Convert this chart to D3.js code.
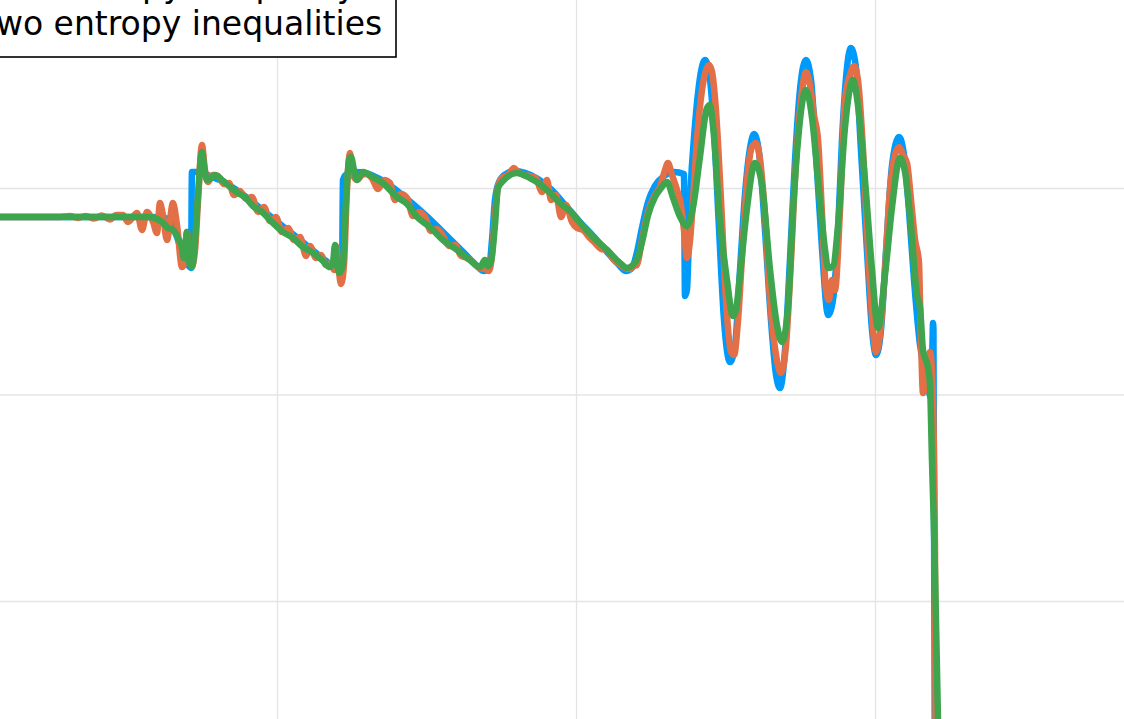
<!DOCTYPE html>
<html>
<head>
<meta charset="utf-8">
<script src="https://cdn.jsdelivr.net/npm/d3@7"></script>
<style>
  html, body { margin: 0; padding: 0; background: #fff; overflow: hidden; }
  svg { display: block; }
</style>
</head>
<body>
<div id="chart-area"></div>
<script>
// Shu-Osher density profile, three entropy-inequality variants

var xTicks = [-4, -2, 0, 2, 4];
var yTicks = [1, 2, 3, 4, 5];
var legendLabels = ["no entropy inequality", "one entropy inequality", "two entropy inequalities"];

// series values, [x, rho]
var rhoNone = [
  [-5.000, 3.860], [-2.850, 3.860], [-2.749, 3.855], [-2.702, 3.821], [-2.662, 3.748],
  [-2.622, 3.661], [-2.589, 3.622], [-2.575, 3.613], [-2.569, 4.077], [-2.515, 4.077],
  [-2.448, 4.058], [-2.368, 4.034], [-2.281, 3.995], [-2.181, 3.942], [-2.080, 3.884],
  [-1.980, 3.826], [-1.880, 3.768], [-1.779, 3.709], [-1.679, 3.651], [-1.592, 3.603],
  [-1.565, 3.593], [-1.559, 4.039], [-1.532, 4.068], [-1.478, 4.077], [-1.411, 4.073],
  [-1.324, 4.048], [-1.231, 4.005], [-1.130, 3.947], [-1.030, 3.884], [-0.930, 3.816],
  [-0.829, 3.743], [-0.736, 3.676], [-0.669, 3.627], [-0.615, 3.598], [-0.582, 3.613],
  [-0.562, 3.748], [-0.542, 3.942], [-0.515, 4.029], [-0.468, 4.068], [-0.408, 4.082],
  [-0.341, 4.073], [-0.254, 4.044], [-0.161, 3.990], [-0.067, 3.913], [0.027, 3.835],
  [0.127, 3.758], [0.214, 3.685], [0.281, 3.632], [0.334, 3.598], [0.375, 3.613],
  [0.408, 3.690], [0.441, 3.806], [0.482, 3.932], [0.528, 4.010], [0.589, 4.058],
  [0.656, 4.077], [0.722, 4.068], [0.729, 3.477], [0.742, 3.506], [0.763, 3.942],
  [0.796, 4.305], [0.829, 4.533], [0.863, 4.620], [0.890, 4.562], [0.923, 4.281],
  [0.957, 3.797], [0.990, 3.361], [1.030, 3.157], [1.064, 3.240], [1.097, 3.603],
  [1.130, 3.966], [1.164, 4.194], [1.191, 4.261], [1.224, 4.174], [1.264, 3.797],
  [1.304, 3.361], [1.338, 3.094], [1.365, 3.031], [1.398, 3.215], [1.431, 3.651],
  [1.465, 4.136], [1.498, 4.475], [1.538, 4.620], [1.572, 4.523], [1.612, 4.087],
  [1.646, 3.700], [1.686, 3.385], [1.719, 3.458], [1.753, 3.797], [1.779, 4.232],
  [1.806, 4.533], [1.839, 4.678], [1.873, 4.581], [1.906, 4.184], [1.946, 3.700],
  [1.980, 3.312], [2.007, 3.191], [2.040, 3.312], [2.074, 3.700], [2.114, 4.111],
  [2.161, 4.247], [2.194, 4.160], [2.227, 3.893], [2.261, 3.554], [2.301, 3.240],
  [2.341, 3.094], [2.375, 2.983], [2.385, 3.264], [2.388, 3.346], [2.391, 3.312],
  [2.401, 1.036], [2.600, 1.000], [5.000, 1.000]
];

var rhoOne = [
  [-5.000, 3.860], [-3.452, 3.860], [-3.385, 3.864], [-3.331, 3.855], [-3.278, 3.864],
  [-3.224, 3.852], [-3.171, 3.867], [-3.117, 3.847], [-3.077, 3.869], [-3.030, 3.869],
  [-2.997, 3.835], [-2.936, 3.879], [-2.903, 3.797], [-2.870, 3.884], [-2.829, 3.835],
  [-2.803, 3.782], [-2.783, 3.927], [-2.763, 3.869], [-2.736, 3.748], [-2.696, 3.927],
  [-2.669, 3.821], [-2.635, 3.617], [-2.622, 3.632], [-2.602, 3.787], [-2.589, 3.700],
  [-2.569, 3.622], [-2.548, 3.700], [-2.528, 3.942], [-2.502, 4.208], [-2.482, 4.087],
  [-2.462, 4.029], [-2.428, 4.063], [-2.395, 4.058], [-2.355, 4.019], [-2.321, 4.024],
  [-2.288, 3.966], [-2.248, 3.985], [-2.207, 3.947], [-2.167, 3.956], [-2.127, 3.884],
  [-2.087, 3.908], [-2.047, 3.840], [-2.007, 3.860], [-1.967, 3.787], [-1.926, 3.806],
  [-1.886, 3.748], [-1.846, 3.763], [-1.806, 3.671], [-1.779, 3.719], [-1.739, 3.661],
  [-1.706, 3.676], [-1.672, 3.627], [-1.639, 3.637], [-1.619, 3.603], [-1.605, 3.719],
  [-1.592, 3.642], [-1.572, 3.535], [-1.552, 3.627], [-1.532, 3.990], [-1.512, 4.169],
  [-1.492, 4.063], [-1.465, 4.039], [-1.431, 4.063], [-1.405, 4.068], [-1.365, 4.048],
  [-1.324, 3.995], [-1.284, 4.039], [-1.244, 4.024], [-1.211, 3.942], [-1.171, 3.971],
  [-1.130, 3.952], [-1.090, 3.864], [-1.050, 3.884], [-1.010, 3.860], [-0.970, 3.792],
  [-0.930, 3.801], [-0.890, 3.768], [-0.849, 3.719], [-0.809, 3.724], [-0.769, 3.671],
  [-0.729, 3.661], [-0.689, 3.642], [-0.649, 3.613], [-0.609, 3.608], [-0.582, 3.598],
  [-0.562, 3.676], [-0.542, 3.869], [-0.522, 4.005], [-0.495, 4.048], [-0.455, 4.063],
  [-0.415, 4.097], [-0.388, 4.077], [-0.348, 4.063], [-0.308, 4.058], [-0.268, 4.048],
  [-0.227, 3.981], [-0.194, 4.039], [-0.167, 3.942], [-0.134, 3.966], [-0.100, 3.860],
  [-0.067, 3.918], [-0.027, 3.835], [0.007, 3.806], [0.047, 3.797], [0.087, 3.763],
  [0.127, 3.734], [0.167, 3.705], [0.207, 3.700], [0.248, 3.656], [0.288, 3.632],
  [0.328, 3.613], [0.361, 3.608], [0.388, 3.622], [0.408, 3.627], [0.441, 3.748],
  [0.482, 3.884], [0.528, 3.966], [0.562, 4.005], [0.595, 4.087], [0.615, 4.121],
  [0.642, 4.063], [0.676, 3.990], [0.702, 3.918], [0.722, 3.797], [0.742, 3.661],
  [0.763, 3.748], [0.783, 3.942], [0.809, 4.232], [0.843, 4.475], [0.870, 4.571],
  [0.890, 4.596], [0.910, 4.562], [0.936, 4.378], [0.970, 3.942], [1.003, 3.458],
  [1.037, 3.206], [1.057, 3.191], [1.084, 3.361], [1.117, 3.748], [1.151, 4.087],
  [1.177, 4.199], [1.204, 4.218], [1.231, 4.136], [1.264, 3.869], [1.298, 3.458],
  [1.338, 3.191], [1.371, 3.104], [1.405, 3.240], [1.438, 3.651], [1.472, 4.136],
  [1.505, 4.426], [1.538, 4.562], [1.565, 4.499], [1.592, 4.353], [1.619, 4.232],
  [1.646, 3.869], [1.672, 3.506], [1.692, 3.458], [1.712, 3.554], [1.732, 3.506],
  [1.766, 3.893], [1.799, 4.426], [1.833, 4.547], [1.860, 4.591], [1.886, 4.523],
  [1.920, 4.184], [1.953, 3.700], [1.987, 3.312], [2.007, 3.206], [2.033, 3.288],
  [2.067, 3.603], [2.100, 3.990], [2.134, 4.160], [2.161, 4.199], [2.187, 4.160],
  [2.214, 4.121], [2.241, 3.942], [2.268, 3.748], [2.294, 3.642], [2.301, 3.458],
  [2.308, 3.264], [2.321, 3.007], [2.341, 3.046], [2.368, 3.206], [2.381, 3.119],
  [2.395, 2.683], [2.401, 2.271], [2.408, 0.988], [2.600, 1.000], [5.000, 1.000]
];

var rhoTwo = [
  [-5.000, 3.860], [-2.850, 3.860], [-2.803, 3.850], [-2.769, 3.835], [-2.729, 3.806],
  [-2.696, 3.797], [-2.662, 3.758], [-2.635, 3.709], [-2.622, 3.661], [-2.609, 3.748],
  [-2.602, 3.787], [-2.589, 3.642], [-2.569, 3.617], [-2.548, 3.748], [-2.528, 3.966],
  [-2.502, 4.174], [-2.482, 4.077], [-2.468, 4.039], [-2.441, 4.048], [-2.415, 4.063],
  [-2.368, 4.039], [-2.314, 4.005], [-2.261, 3.976], [-2.214, 3.956], [-2.161, 3.913],
  [-2.100, 3.884], [-2.033, 3.835], [-1.960, 3.787], [-1.893, 3.758], [-1.826, 3.714],
  [-1.779, 3.695], [-1.732, 3.671], [-1.692, 3.646], [-1.646, 3.617], [-1.625, 3.642],
  [-1.612, 3.724], [-1.599, 3.642], [-1.585, 3.588], [-1.559, 3.627], [-1.538, 3.942],
  [-1.518, 4.136], [-1.505, 4.150], [-1.485, 4.087], [-1.465, 4.039], [-1.425, 4.077],
  [-1.358, 4.053], [-1.291, 4.024], [-1.197, 3.956], [-1.130, 3.923], [-1.064, 3.860],
  [-0.977, 3.811], [-0.890, 3.748], [-0.796, 3.700], [-0.709, 3.651], [-0.642, 3.617],
  [-0.609, 3.651], [-0.589, 3.622], [-0.569, 3.642], [-0.542, 3.821], [-0.522, 4.000],
  [-0.488, 4.034], [-0.395, 4.073], [-0.308, 4.048], [-0.241, 4.019], [-0.174, 3.976],
  [-0.107, 3.927], [-0.040, 3.889], [0.027, 3.831], [0.114, 3.763], [0.207, 3.700],
  [0.294, 3.637], [0.341, 3.613], [0.381, 3.627], [0.415, 3.666], [0.448, 3.758],
  [0.482, 3.869], [0.528, 3.956], [0.569, 4.000], [0.609, 4.029], [0.649, 3.952],
  [0.696, 3.860], [0.742, 3.816], [0.783, 3.908], [0.829, 4.150], [0.876, 4.387],
  [0.896, 4.402], [0.916, 4.305], [0.963, 3.845], [1.010, 3.554], [1.050, 3.380],
  [1.070, 3.409], [1.097, 3.579], [1.144, 3.903], [1.197, 4.121], [1.244, 4.015],
  [1.298, 3.603], [1.344, 3.337], [1.378, 3.254], [1.418, 3.419], [1.452, 3.893],
  [1.485, 4.232], [1.538, 4.475], [1.579, 4.339], [1.619, 4.039], [1.666, 3.700],
  [1.686, 3.613], [1.719, 3.622], [1.753, 3.821], [1.799, 4.291], [1.853, 4.523],
  [1.886, 4.402], [1.933, 4.039], [1.980, 3.603], [2.020, 3.322], [2.067, 3.579],
  [2.114, 3.908], [2.167, 4.145], [2.201, 4.077], [2.234, 3.869], [2.281, 3.482],
  [2.301, 3.424], [2.321, 3.215], [2.355, 3.128], [2.368, 3.046], [2.381, 2.683],
  [2.395, 2.329], [2.401, 2.150], [2.421, 1.438], [2.435, 0.988], [2.600, 1.000],
  [5.000, 1.000]
];

var series = [rhoNone, rhoOne, rhoTwo];
var color = ["#009afa", "#e26f46", "#3ea44e"];

var width = 1124, height = 719;

var svg = d3.select("#chart-area")
    .append("svg")
        .attr("width", width)
        .attr("height", height);

// scales: grid at x = -2, 0, 2 and rho = 2, 3, 4
var x = d3.scaleLinear().domain([-2, 2]).range([277, 875]);
var y = d3.scaleLinear().domain([2, 4]).range([601, 188]);

var xLo = -5, xHi = 5, yLo = 0.6, yHi = 5.1;

// X grid (tick labels sit below the visible area, so none are drawn)
var xAxisCall = d3.axisBottom(x)
    .tickValues(xTicks)
    .tickSize(-(y(yLo) - y(yHi)))
    .tickFormat("");
var gx = svg.append("g")
    .attr("transform", "translate(0," + y(yLo) + ")")
    .call(xAxisCall);

// Y grid
var yAxisCall = d3.axisLeft(y)
    .tickValues(yTicks)
    .tickSize(-(x(xHi) - x(xLo)))
    .tickFormat("");
var gy = svg.append("g")
    .attr("transform", "translate(" + x(xLo) + ",0)")
    .call(yAxisCall);

[gx, gy].forEach(function(g) {
    g.select(".domain").remove();
    g.selectAll(".tick text").remove();
    g.selectAll(".tick line").attr("stroke", "#e4e4e4").attr("stroke-width", 1.3);
});

// Lines
var line = d3.line()
    .curve(d3.curveMonotoneX)
    .x(function(d) { return x(d[0]); })
    .y(function(d) { return y(d[1]); });

svg.selectAll("path.rho")
    .data(series)
    .enter()
    .append("path")
        .attr("class", "rho")
        .attr("d", line)
        .attr("fill", "none")
        .attr("stroke", function(d, i) { return color[i]; })
        .attr("stroke-width", 6.5)
        .attr("stroke-linejoin", "round")
        .attr("stroke-linecap", "round");

// Legend
var legend = svg.append("g");
legend.append("rect")
    .attr("x", -220)
    .attr("y", -140)
    .attr("width", 616)
    .attr("height", 197)
    .attr("fill", "#fff")
    .attr("stroke", "#000")
    .attr("stroke-width", 1.6);

legendLabels.forEach(function(label, i) {
    var base = 35 - (legendLabels.length - 1 - i) * 38;
    legend.append("line")
        .attr("x1", -120).attr("x2", -40)
        .attr("y1", base - 11).attr("y2", base - 11)
        .attr("stroke", color[i])
        .attr("stroke-width", 6.5);
    legend.append("text")
        .attr("x", -17)
        .attr("y", base)
        .attr("font-family", "DejaVu Sans")
        .attr("font-size", "33px")
        .attr("fill", "#000")
        .text(label);
});
</script>
</body>
</html>
